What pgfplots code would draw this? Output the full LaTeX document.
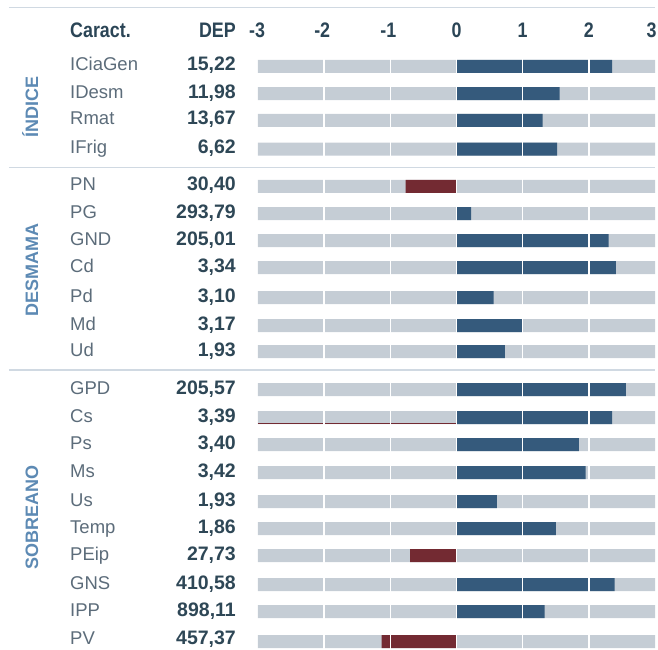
\documentclass[border=0pt]{standalone}
\usepackage{fontspec}
\setmainfont{Liberation Sans}
\newfontfamily\condfont[FakeStretch=0.85]{Liberation Sans}
\usepackage{pgfplots}
\pgfplotsset{compat=1.18}
\definecolor{barbg}{RGB}{197,205,213}
\definecolor{barblue}{RGB}{53,90,124}
\definecolor{barred}{RGB}{115,42,50}
\definecolor{sepline}{RGB}{208,217,226}
\definecolor{headc}{RGB}{43,69,86}
\definecolor{namec}{RGB}{92,108,122}
\definecolor{valc}{RGB}{46,71,86}
\definecolor{groupc}{RGB}{93,138,180}
\begin{document}
\begin{tikzpicture}
\begin{axis}[scale only axis, width=658pt, height=649pt,
  xmin=-6.899, xmax=3.045, ymin=0, ymax=649, y dir=reverse,
  hide axis, clip=false]
% background bars
\addplot[xbar, bar width=13pt, bar shift=0pt, fill=barbg, draw=none] coordinates {
(3,66.3) (3,93.7) (3,120.3) (3,149.2)
(3,186.3) (3,213.5) (3,240.5) (3,267.5) (3,297.5) (3,325.5) (3,351.5)
(3,389.5) (3,417.5) (3,444.5) (3,472.5) (3,501.5) (3,528.5) (3,555.5) (3,584.5) (3,611.5) (3,641.5)};
\addplot[xbar, bar width=13pt, bar shift=0pt, fill=barbg, draw=none] coordinates {
(-3,66.3) (-3,93.7) (-3,120.3) (-3,149.2)
(-3,186.3) (-3,213.5) (-3,240.5) (-3,267.5) (-3,297.5) (-3,325.5) (-3,351.5)
(-3,389.5) (-3,417.5) (-3,444.5) (-3,472.5) (-3,501.5) (-3,528.5) (-3,555.5) (-3,584.5) (-3,611.5) (-3,641.5)};
% positive values
\addplot[xbar, bar width=13pt, bar shift=0pt, fill=barblue, draw=none] coordinates {
(2.35,66.3) (1.56,93.7) (1.30,120.3) (1.52,149.2)
(0.22,213.5) (2.30,240.5) (2.41,267.5) (0.56,297.5) (0.99,325.5) (0.73,351.5)
(2.56,389.5) (2.35,417.5) (1.85,444.5) (1.95,472.5) (0.61,501.5) (1.50,528.5) (2.39,584.5) (1.33,611.5)};
% negative values
\addplot[xbar, bar width=13pt, bar shift=0pt, fill=barred, draw=none] coordinates {
(-0.77,186.3) (-0.70,555.5) (-1.13,641.5)};
% thin red line under Cs
\addplot[barred, line width=0.8pt] coordinates {(-3,423.6) (0,423.6)};
% white dividers
\addplot[white, line width=1.5pt] coordinates {(-2,55) (-2,649)};
\addplot[white, line width=1.5pt] coordinates {(-1,55) (-1,649)};
\addplot[white, line width=1.5pt] coordinates {(0,55) (0,649)};
\addplot[white, line width=1.5pt] coordinates {(1,55) (1,649)};
\addplot[white, line width=1.5pt] coordinates {(2,55) (2,649)};
% separators
\addplot[sepline, line width=1.5pt] coordinates {(-6.763,7.3) (3.0,7.3)};
\addplot[sepline, line width=1.5pt] coordinates {(-6.763,167.5) (3.0,167.5)};
\addplot[sepline, line width=1.5pt] coordinates {(-6.763,370) (3.0,370)};
\end{axis}
% header
\node[anchor=base west, text=headc, font=\condfont\bfseries\fontsize{21}{21}\selectfont, inner sep=0pt] at (70pt,{(649-37.7)*1pt}) {Caract.};
\node[anchor=base east, text=headc, font=\condfont\bfseries\fontsize{21}{21}\selectfont, inner sep=0pt] at (236pt,{(649-37.7)*1pt}) {DEP};
\foreach \t/\px in {-3/257,-2/322.2,-1/388.3,0/456.5,1/522.7,2/588.8,3/651.5}{
  \node[anchor=base, text=headc, font=\condfont\bfseries\fontsize{21}{21}\selectfont, inner sep=0pt] at (\px pt,{(649-37.7)*1pt}) {\t};
}
% rows (y = baseline in pixels from top)
\foreach \n/\v/\y in {ICiaGen/{15,22}/71.0, IDesm/{11,98}/98.4, Rmat/{13,67}/125.0, IFrig/{6,62}/153.9,
  PN/{30,40}/191.0, PG/{293,79}/218.2, GND/{205,01}/245.2, Cd/{3,34}/272.2, Pd/{3,10}/302.2, Md/{3,17}/330.2, Ud/{1,93}/356.2,
  GPD/{205,57}/394.2, Cs/{3,39}/422.2, Ps/{3,40}/449.2, Ms/{3,42}/477.2, Us/{1,93}/506.2, Temp/{1,86}/533.2,
  PEip/{27,73}/560.2, GNS/{410,58}/589.2, IPP/{898,11}/616.2, PV/{457,37}/644.2}{
  \node[anchor=base west, text=namec, font=\fontsize{18.5}{18.5}\selectfont, inner sep=0pt] at (70pt,{(649-\y)*1pt}) {\n};
  \node[anchor=base east, text=valc, font=\bfseries\fontsize{19.5}{19.5}\selectfont, inner sep=0pt] at (236pt,{(649-\y)*1pt}) {\v};
}
% group labels
\node[rotate=90, anchor=base, text=groupc, font=\bfseries\fontsize{18}{18}\selectfont, inner sep=0pt] at (38pt,{(649-107)*1pt}) {ÍNDICE};
\node[rotate=90, anchor=base, text=groupc, font=\bfseries\fontsize{18}{18}\selectfont, inner sep=0pt] at (38pt,{(649-270)*1pt}) {DESMAMA};
\node[rotate=90, anchor=base, text=groupc, font=\bfseries\fontsize{18}{18}\selectfont, inner sep=0pt] at (38pt,{(649-517)*1pt}) {SOBREANO};
\pgfresetboundingbox
\path (0pt,0pt) rectangle (658pt,649pt);
\end{tikzpicture}
\end{document}
